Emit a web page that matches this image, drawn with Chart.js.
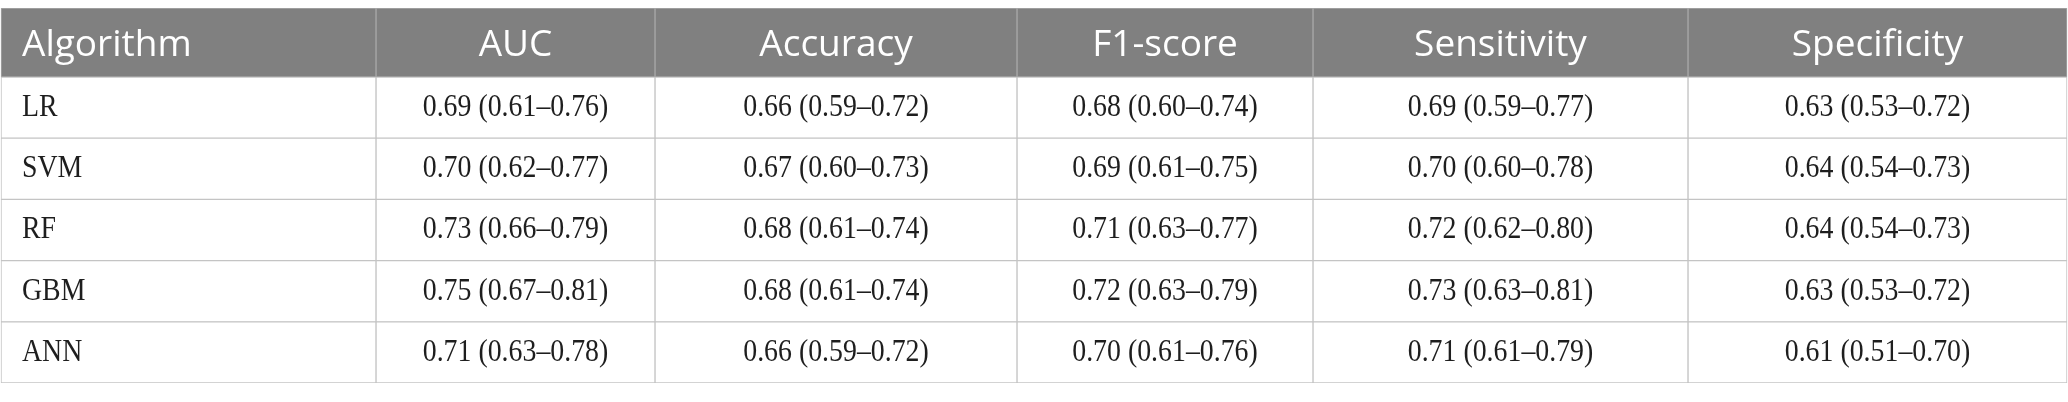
<!DOCTYPE html>
<html>
<head>
<meta charset="utf-8">
<script src="https://cdn.jsdelivr.net/npm/chart.js@4.4.1/dist/chart.umd.min.js"></script>
<style>
    html, body { margin: 0; padding: 0; background: #ffffff; }
    #quadro { position: relative; width: 2068px; height: 402px; overflow: hidden; }
    #tabelaCabecalho { position: absolute; left: 0; top: 8px; }
    #tabelaCorpo { position: absolute; left: 0; top: 77px; }
</style>
</head>
<body>
<div id="quadro">
    <canvas id="tabelaCabecalho" width="2068" height="69"></canvas>
    <canvas id="tabelaCorpo" width="2068" height="325"></canvas>
</div>
<script>
const primeiraColuna = "Algorithm";
const algoritmos = ["LR", "SVM", "RF", "GBM", "ANN"];
const metricas = ["AUC", "Accuracy", "F1-score", "Sensitivity", "Specificity"];

// [valor, IC inferior, IC superior] por algoritmo
const auc = [[0.69, 0.61, 0.76], [0.70, 0.62, 0.77], [0.73, 0.66, 0.79], [0.75, 0.67, 0.81], [0.71, 0.63, 0.78]];
const accuracy = [[0.66, 0.59, 0.72], [0.67, 0.60, 0.73], [0.68, 0.61, 0.74], [0.68, 0.61, 0.74], [0.66, 0.59, 0.72]];
const f1score = [[0.68, 0.60, 0.74], [0.69, 0.61, 0.75], [0.71, 0.63, 0.77], [0.72, 0.63, 0.79], [0.70, 0.61, 0.76]];
const sensitivity = [[0.69, 0.59, 0.77], [0.70, 0.60, 0.78], [0.72, 0.62, 0.80], [0.73, 0.63, 0.81], [0.71, 0.61, 0.79]];
const specificity = [[0.63, 0.53, 0.72], [0.64, 0.54, 0.73], [0.64, 0.54, 0.73], [0.63, 0.53, 0.72], [0.61, 0.51, 0.70]];

// layout: bordas das colunas (unidades do eixo x = pixels da tabela)
const bordasColunas = [1, 376, 655, 1017, 1313, 1688, 2067];
const larguraTotal = 2068;

function formatar(v) {
    return v[0].toFixed(2) + " (" + v[1].toFixed(2) + "\u2013" + v[2].toFixed(2) + ")";
}

// desenha o texto de cada celula no centro (ou a esquerda) da barra
const textoCelulas = {
    id: "textoCelulas",
    afterDatasetsDraw(chart, args, opts) {
        const ctx = chart.ctx;
        ctx.save();
        ctx.font = opts.fonte;
        ctx.fillStyle = opts.cor;
        ctx.textBaseline = "middle";
        chart.data.datasets.forEach((ds, di) => {
            chart.getDatasetMeta(di).data.forEach((el, i) => {
                const p = el.getProps(["x", "y", "base"], true);
                const esq = Math.min(p.x, p.base);
                const dir = Math.max(p.x, p.base);
                const txt = ds.textos[i];
                const largura = ctx.measureText(txt).width * opts.compressao;
                if (ds.alinhar === "left") {
                    ctx.textAlign = "left";
                    ctx.fillText(txt, esq + opts.recuo, p.y + opts.ajusteY, largura);
                } else {
                    ctx.textAlign = "center";
                    ctx.fillText(txt, (esq + dir) / 2, p.y + opts.ajusteY, largura);
                }
            });
        });
        ctx.restore();
    }
};

function montarTabela(canvasId, linhas, colunasTexto, fundo, borda, texto, padBaixo) {
    const datasets = colunasTexto.map((textos, c) => ({
        data: linhas.map(() => [bordasColunas[c], bordasColunas[c + 1]]),
        textos: textos,
        alinhar: c === 0 ? "left" : "center",
        backgroundColor: fundo,
        borderColor: borda,
        borderWidth: 1,
        borderSkipped: false,
        barPercentage: 1,
        categoryPercentage: 1,
        grouped: false
    }));

    return new Chart(document.getElementById(canvasId), {
        type: "bar",
        data: { labels: linhas, datasets: datasets },
        plugins: [textoCelulas],
        options: {
            indexAxis: "y",
            responsive: false,
            animation: false,
            layout: { padding: { left: 0, right: 0, top: 0, bottom: padBaixo } },
            scales: {
                x: { type: "linear", min: 0, max: larguraTotal, display: false },
                y: { type: "category", display: false }
            },
            plugins: {
                legend: { display: false },
                tooltip: { enabled: false },
                textoCelulas: texto
            }
        }
    });
}

// cabecalho
montarTabela(
    "tabelaCabecalho",
    ["header"],
    [[primeiraColuna]].concat(metricas.map(m => [m])),
    "#808080", "#a8a8a8",
    { fonte: '37px "Open Sans"', cor: "#ffffff", compressao: 1, recuo: 21, ajusteY: 3 },
    0
);

// corpo
const valores = [auc, accuracy, f1score, sensitivity, specificity];
montarTabela(
    "tabelaCorpo",
    algoritmos,
    [algoritmos].concat(valores.map(serie => serie.map(formatar))),
    "#ffffff", "#c4c4c4",
    { fonte: '32px "Liberation Serif"', cor: "#1e1e1e", compressao: 0.87, recuo: 21, ajusteY: 0 },
    19
);
</script>
</body>
</html>
